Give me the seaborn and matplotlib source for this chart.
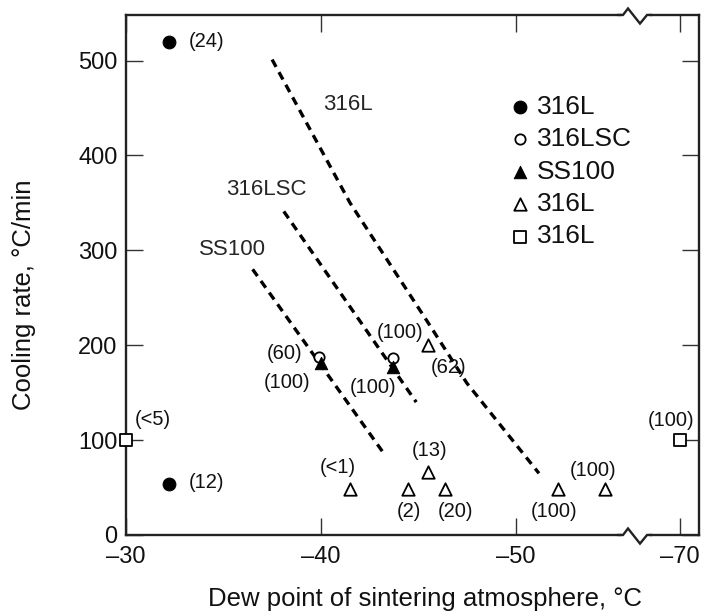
import numpy as np
import matplotlib
matplotlib.use("Agg")
import matplotlib.pyplot as plt
from matplotlib.ticker import FixedLocator
import seaborn as sns

# ---------------------------------------------------------------------------
# data
# ---------------------------------------------------------------------------
# filled circles, 316L
l316_fill_x = [-32.2, -32.2]
l316_fill_y = [520, 54]
l316_fill_lab = ["(24)", "(12)"]

# open circles, 316LSC
lsc_x = [-39.9, -43.7]
lsc_y = [188, 186]
lsc_lab = ["(60)", "(100)"]

# filled triangles, SS100
ss100_x = [-40.0, -43.7]
ss100_y = [181, 177]
ss100_lab = ["(100)", "(100)"]

# open triangles, 316L
l316_tri_x = [-45.5, -41.5, -44.5, -45.5, -46.4, -52.2, -54.6]
l316_tri_y = [200, 48, 48, 66, 48, 48, 48]
l316_tri_lab = ["(62)", "(<1)", "(2)", "(13)", "(20)", "(100)", "(100)"]

# open squares, 316L
l316_sq_x = [-30, -70]
l316_sq_y = [100, 100]
l316_sq_lab = ["(<5)", "(100)"]

# dashed trend lines
line_316l_x = [-37.5, -41.5, -45.5, -47.5, -51.2]
line_316l_y = [501, 350, 224, 160, 65]
line_316lsc_x = [-38.1, -44.9]
line_316lsc_y = [341, 140]
line_ss100_x = [-36.5, -43.2]
line_ss100_y = [280, 87]

x_ticks = [-30, -40, -50, -70]
x_ticklabels = ["\u201330", "\u201340", "\u201350", "\u201370"]
y_ticks = [0, 100, 200, 300, 400, 500]

# label offsets (points) for each point's annotation
l316_fill_off = [(27, 0), (27, 1)]
lsc_off = [(-25, 2), (5, 19)]
ss100_off = [(-24, -14), (-14, -15)]
l316_tri_off = [(15, -16), (-9, 16), (0, -16), (1, 16), (7, -16), (-3, -16), (-9, 14)]
l316_sq_off = [(19, 15), (-6, 14)]

# ---------------------------------------------------------------------------
# broken x axis: -30..-56 linear, squeeze -56..-68, then continue
# ---------------------------------------------------------------------------
BRK_A, BRK_B, SQZ = -56.1, -67.8, 0.01


def fwd(x):
    x = np.asarray(x, dtype=float)
    return np.where(x >= BRK_A, x,
                    np.where(x >= BRK_B, BRK_A + (x - BRK_A) * SQZ,
                             BRK_A + (BRK_B - BRK_A) * SQZ + (x - BRK_B)))


def inv(y):
    y = np.asarray(y, dtype=float)
    low = BRK_A + (BRK_B - BRK_A) * SQZ
    return np.where(y >= BRK_A, y,
                    np.where(y >= low, BRK_A + (y - BRK_A) / SQZ,
                             y - low + BRK_B))


sns.set_style("ticks")
plt.rcParams["font.family"] = ["Liberation Sans", "DejaVu Sans"]

fig = plt.figure(figsize=(7.04, 6.16), dpi=100)
ax = fig.add_axes([0.179, 0.1315, 0.8139, 0.8442])

# dashed lines
for lx, ly in [(line_316l_x, line_316l_y), (line_316lsc_x, line_316lsc_y),
               (line_ss100_x, line_ss100_y)]:
    sns.lineplot(x=lx, y=ly, ax=ax, sort=False, estimator=None, color="black",
                 linewidth=2.4, linestyle=(0, (2.5, 1.8)), zorder=2)

ms = 85
sns.scatterplot(x=l316_fill_x, y=l316_fill_y, ax=ax, marker="o", s=ms,
                color="black", edgecolor="black", label="316L", zorder=4)
sns.scatterplot(x=lsc_x, y=lsc_y, ax=ax, marker="o", s=55, facecolor="white",
                edgecolor="black", linewidth=1.3, label="316LSC", zorder=4)
sns.scatterplot(x=ss100_x, y=ss100_y, ax=ax, marker="^", s=80, color="black",
                edgecolor="black", label="SS100", zorder=5)
sns.scatterplot(x=l316_tri_x, y=l316_tri_y, ax=ax, marker="^", s=80,
                facecolor="white", edgecolor="black", linewidth=1.3,
                label="316L", zorder=4)
sns.scatterplot(x=l316_sq_x, y=l316_sq_y, ax=ax, marker="s", s=75,
                facecolor="white", edgecolor="black", linewidth=1.3,
                label="316L", zorder=6, clip_on=False)

# point annotations
groups = [(l316_fill_x, l316_fill_y, l316_fill_lab, l316_fill_off),
          (lsc_x, lsc_y, lsc_lab, lsc_off),
          (ss100_x, ss100_y, ss100_lab, ss100_off),
          (l316_tri_x, l316_tri_y, l316_tri_lab, l316_tri_off),
          (l316_sq_x, l316_sq_y, l316_sq_lab, l316_sq_off)]
for gx, gy, glab, goff in groups:
    for px, py, t, off in zip(gx, gy, glab, goff):
        ax.annotate(t, (px, py), xytext=off, textcoords="offset points",
                    ha="center", va="center", fontsize=14.5, color="#111111",
                    annotation_clip=False)

# line labels
ax.text(-41.4, 454, "316L", fontsize=16, ha="center", va="center")
ax.text(-37.2, 364, "316LSC", fontsize=16, ha="center", va="center")
ax.text(-35.45, 301, "SS100", fontsize=16, ha="center", va="center")

ax.set_xscale("function", functions=(fwd, inv))
ax.set_xlim(-30, -71)
ax.set_ylim(0, 548)
ax.xaxis.set_major_locator(FixedLocator(x_ticks))
ax.set_xticklabels(x_ticklabels)
ax.set_yticks(y_ticks)
ax.tick_params(axis="both", direction="in", length=12, width=1,
               labelsize=17, top=True, right=True, color="#333333",
               labelcolor="#111111")
ax.tick_params(axis="x", pad=8)
ax.tick_params(axis="y", pad=6)
for sp in ax.spines.values():
    sp.set_linewidth(1.7)
    sp.set_color("#222222")

ax.set_xlabel("Dew point of sintering atmosphere, \u00b0C", fontsize=18.5,
              color="#111111")
ax.set_ylabel("Cooling rate, \u00b0C/min", fontsize=18.5, color="#111111")
ax.xaxis.set_label_coords(0.522, -0.1)
ax.yaxis.set_label_coords(-0.157, 0.4615)

# axis break marks on top and bottom spines
bx = [0.858, 0.8674, 0.8761, 0.897, 0.9093, 0.918]
for yb in [1.0, 0.0]:
    ax.plot([0.8674, 0.9093], [yb, yb], transform=ax.transAxes, color="white",
            lw=3.5, clip_on=False, zorder=7)
    ax.plot(bx, [yb, yb, yb + 0.0125, yb - 0.0165, yb, yb],
            transform=ax.transAxes, color="#222222", lw=1.7, clip_on=False,
            zorder=8, solid_joinstyle="miter")

leg = ax.legend(loc="upper left", bbox_to_anchor=(0.653, 0.867), frameon=False,
                fontsize=19, handletextpad=0.3, labelspacing=0.32,
                handlelength=0.7, borderaxespad=0)
for txt in leg.get_texts():
    txt.set_color("#111111")

fig.savefig("out.png", dpi=100)
